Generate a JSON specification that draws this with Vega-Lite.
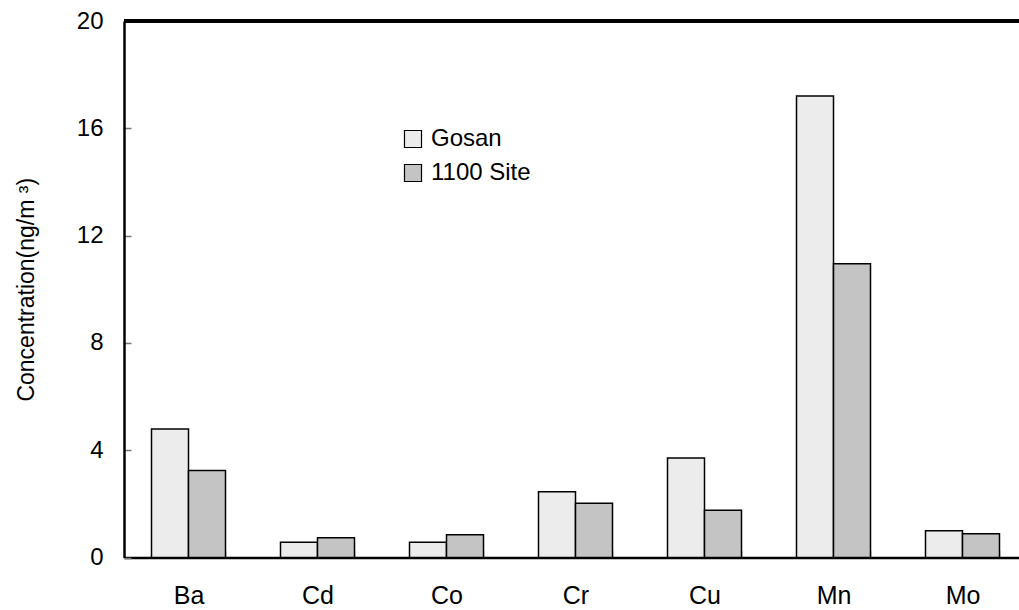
{
  "$schema": "https://vega.github.io/schema/vega-lite/v6.json",
  "autosize": "none",
  "width": 895,
  "height": 536.5,
  "padding": {"left": 124, "top": 21, "right": 0, "bottom": 52.5},
  "background": "white",
  "config": {
    "view": {"stroke": null},
    "font": "Liberation Sans",
    "axis": {"labelFont": "Liberation Sans", "titleFont": "Liberation Sans", "labelColor": "black", "titleColor": "black", "grid": false}
  },
  "data": {
    "values": [
      {"element": "Ba", "site": "Gosan", "value": 4.79},
      {"element": "Ba", "site": "1100 Site", "value": 3.24},
      {"element": "Cd", "site": "Gosan", "value": 0.57},
      {"element": "Cd", "site": "1100 Site", "value": 0.74},
      {"element": "Co", "site": "Gosan", "value": 0.57},
      {"element": "Co", "site": "1100 Site", "value": 0.85},
      {"element": "Cr", "site": "Gosan", "value": 2.45},
      {"element": "Cr", "site": "1100 Site", "value": 2.02},
      {"element": "Cu", "site": "Gosan", "value": 3.71},
      {"element": "Cu", "site": "1100 Site", "value": 1.76},
      {"element": "Mn", "site": "Gosan", "value": 17.2},
      {"element": "Mn", "site": "1100 Site", "value": 10.95},
      {"element": "Mo", "site": "Gosan", "value": 1.0},
      {"element": "Mo", "site": "1100 Site", "value": 0.89}
    ]
  },
  "layer": [
    {
      "mark": {"type": "bar", "stroke": "black", "strokeWidth": 1.5},
      "encoding": {
        "x": {
          "field": "element",
          "type": "nominal",
          "sort": ["Ba", "Cd", "Co", "Cr", "Cu", "Mn", "Mo"],
          "scale": {"range": [0, 903], "paddingInner": 0.4264, "paddingOuter": 0.2132},
          "axis": {
            "title": null,
            "labelAngle": 0,
            "labelFontSize": 25,
            "labelPadding": 33,
            "tickBand": "extent",
            "tickSize": -7,
            "tickColor": "#777777",
            "tickWidth": 1.5,
            "domainColor": "black",
            "domainWidth": 2.5
          }
        },
        "xOffset": {
          "field": "site",
          "type": "nominal",
          "sort": ["Gosan", "1100 Site"],
          "scale": {"paddingInner": 0, "paddingOuter": 0}
        },
        "y": {
          "field": "value",
          "type": "quantitative",
          "scale": {"domain": [0, 20], "nice": false},
          "axis": {
            "values": [0, 4, 8, 12, 16, 20],
            "title": "Concentration(ng/m ³)",
            "titleFontSize": 23,
            "titleFontWeight": "normal",
            "titlePadding": 38,
            "labelFontSize": 24,
            "labelPadding": 28,
            "tickSize": -7,
            "tickColor": "#777777",
            "tickWidth": 1.5,
            "domainColor": "black",
            "domainWidth": 2.5
          }
        },
        "fill": {
          "field": "site",
          "type": "nominal",
          "sort": ["Gosan", "1100 Site"],
          "scale": {"domain": ["Gosan", "1100 Site"], "range": ["#ececec", "#c4c4c4"]},
          "legend": {
            "title": null,
            "orient": "none",
            "legendX": 277,
            "legendY": 106,
            "padding": 0,
            "symbolType": "square",
            "symbolSize": 290,
            "symbolStrokeColor": "black",
            "symbolStrokeWidth": 1.2,
            "labelFontSize": 24,
            "labelOffset": 6,
            "rowPadding": 10,
            "labelColor": "black"
          }
        }
      }
    },
    {
      "mark": {"type": "rule", "color": "black", "strokeWidth": 2.5},
      "encoding": {"y": {"datum": 20, "type": "quantitative"}}
    }
  ]
}
